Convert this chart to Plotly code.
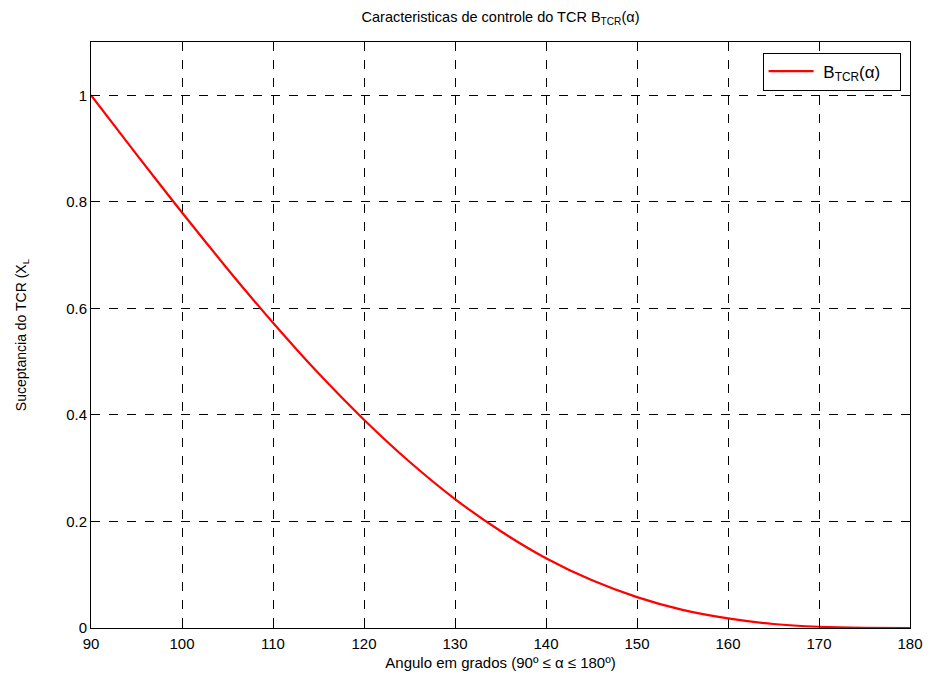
import plotly.graph_objects as go

# Angle alpha (degrees) and susceptance
alpha_deg = [90, 95, 100, 105, 110, 115, 120, 125, 130, 135, 140, 145, 150, 155, 160, 165, 170, 175, 180]
b_tcr = [1.0, 0.889, 0.780, 0.674, 0.573, 0.478, 0.391, 0.312, 0.242, 0.182, 0.131,
         0.090, 0.058, 0.034, 0.018, 0.0075, 0.0023, 0.0003, 0.0]

x_ticks = [90, 100, 110, 120, 130, 140, 150, 160, 170, 180]
y_ticks = [0, 0.2, 0.4, 0.6, 0.8, 1]
y_tick_text = ["0", "0.2", "0.4", "0.6", "0.8", "1"]

FONT = "Liberation Sans, Arial, sans-serif"

fig = go.Figure()
fig.add_trace(go.Scatter(
    x=alpha_deg, y=b_tcr, mode="lines",
    line=dict(color="#ff0000", width=2.2, shape="spline", smoothing=0.6),
    name="\u00a0B<sub>TCR</sub>(α)\u00a0\u00a0\u00a0",
))

axis_common = dict(
    showline=True, linecolor="black", linewidth=1, mirror="ticks",
    ticks="inside", ticklen=6, tickcolor="black",
    showgrid=True, gridcolor="black", gridwidth=0.6, griddash="dash",
    zeroline=False, automargin=False,
    tickfont=dict(family=FONT, size=15, color="black"),
)

fig.update_layout(
    width=933, height=677,
    paper_bgcolor="white", plot_bgcolor="white",
    margin=dict(l=91, r=23, t=42, b=49),
    title=dict(
        text="Caracteristicas de controle do TCR B<sub>TCR</sub>(α)",
        x=(91 + 910) / 2 / 933, xanchor="center",
        y=1 - 17 / 677, yanchor="middle", yref="container",
        font=dict(family=FONT, size=14.5, color="black"),
    ),
    xaxis=dict(
        range=[90, 180], tickvals=x_ticks,
        ticklabelstandoff=2,
        title=dict(text="Angulo em grados (90º ≤ α ≤ 180º)",
                   font=dict(family=FONT, size=15, color="black"), standoff=6),
        **axis_common,
    ),
    yaxis=dict(
        range=[0, 1.1], tickvals=y_ticks, ticktext=y_tick_text,
        title=dict(text="Suceptancia do TCR (X<sub>L</sub>",
                   font=dict(family=FONT, size=14, color="black"), standoff=36),
        **axis_common,
    ),
    showlegend=True,
    legend=dict(
        x=0.9885, y=0.982, xanchor="right", yanchor="top",
        bgcolor="white", bordercolor="black", borderwidth=1,
        font=dict(family=FONT, size=17, color="black"),
        itemwidth=45,
    ),
)

fig.write_html("out.html")
